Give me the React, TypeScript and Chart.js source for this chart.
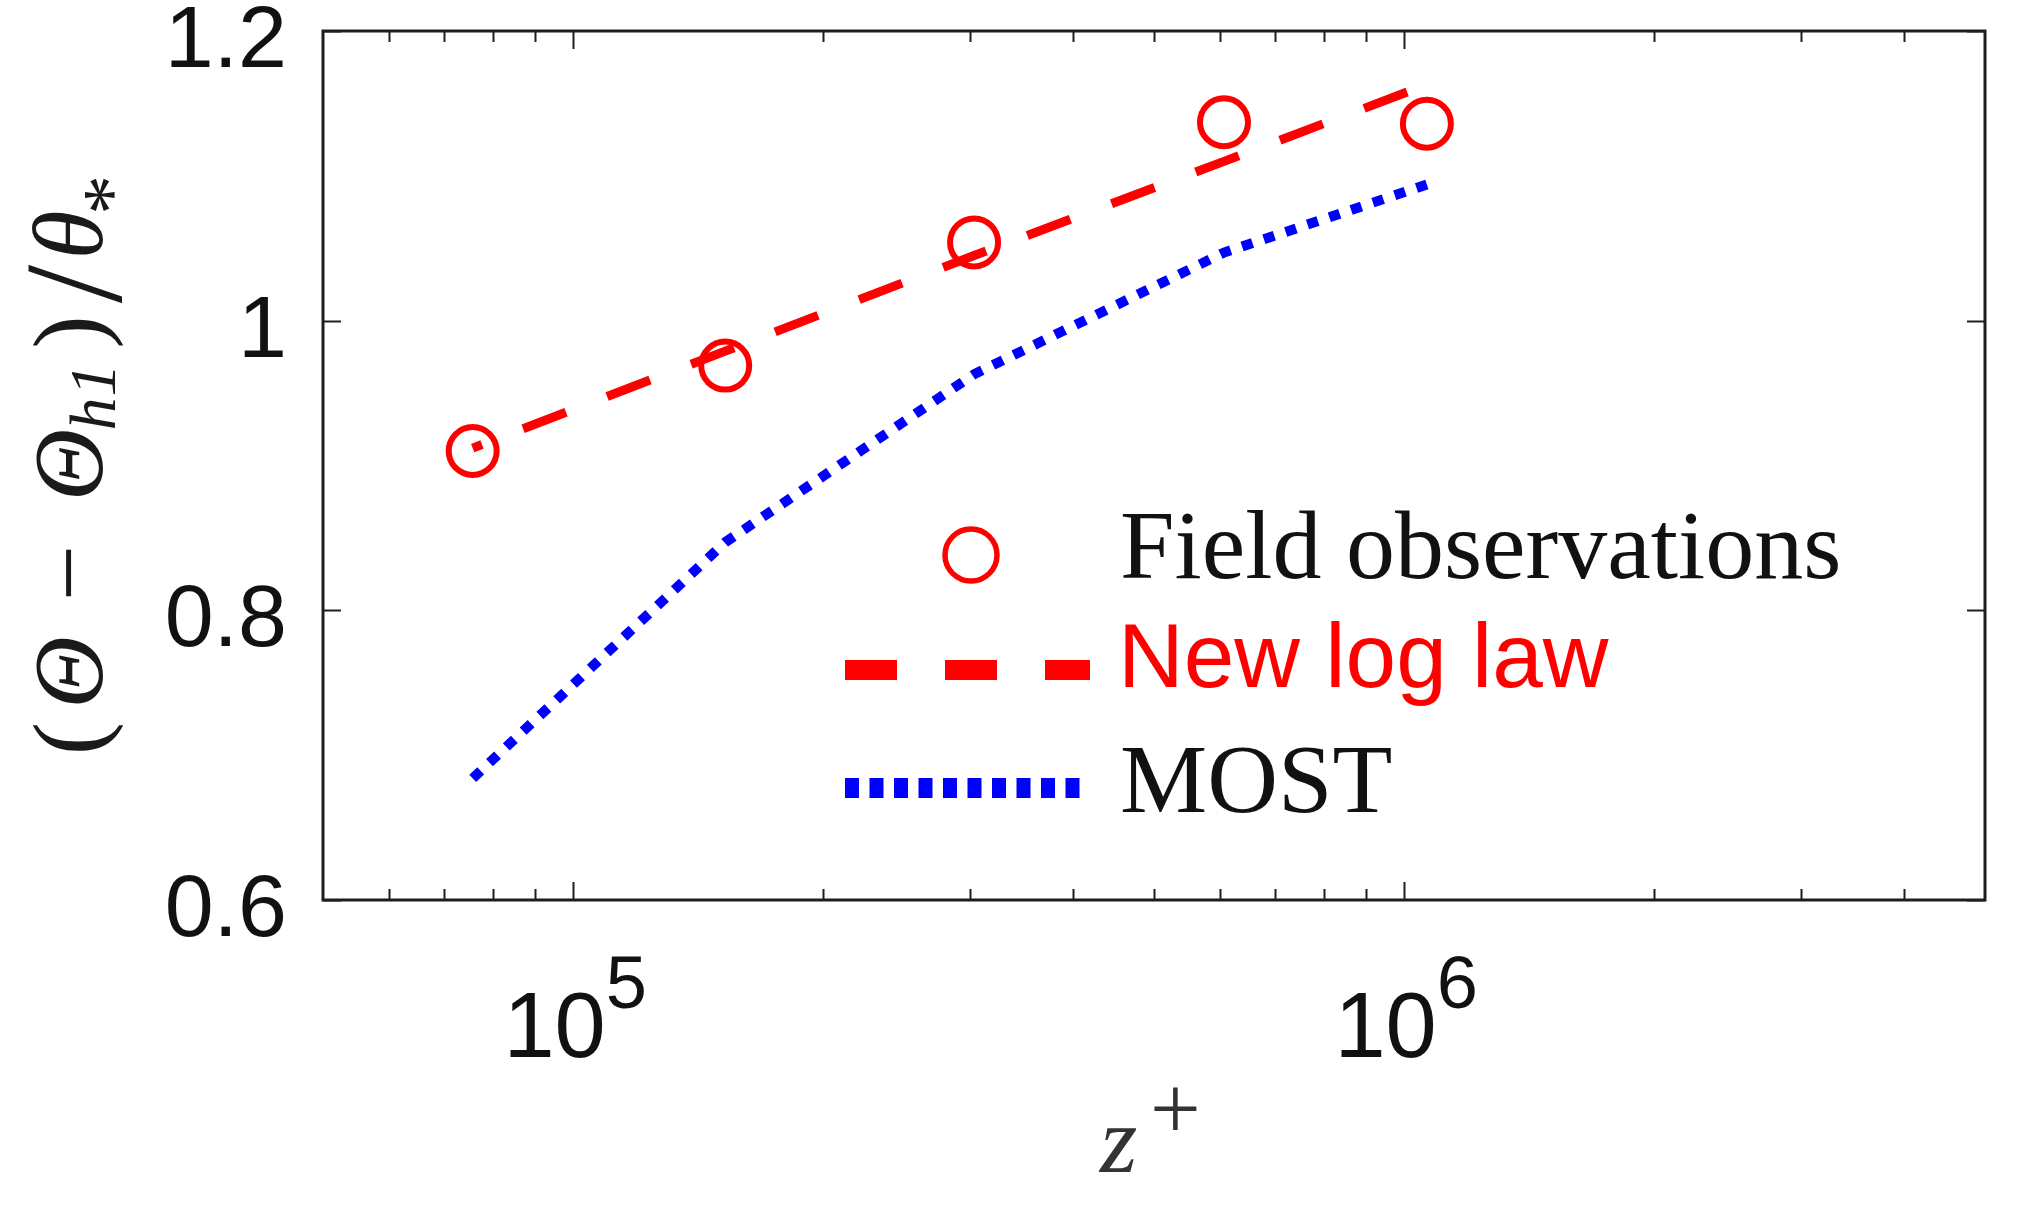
import React, { useEffect, useRef } from 'react';
import { Chart, registerables } from 'chart.js';

Chart.register(...registerables);

// ---- data ----
const zPlus = [75700, 152400, 303700, 607000, 1065000];
const fieldObservations = [0.91, 0.969, 1.054, 1.137, 1.136];
const newLogLaw = [0.912, 0.979, 1.045, 1.11, 1.163];
const most = [0.684, 0.847, 0.963, 1.047, 1.094];

const seriesLabels = ['Field observations', 'New log law', 'MOST'];

const xMajorTicks = [1e5, 1e6];
const xMajorExponents = ['5', '6'];
const xMinorTicks = [6e4, 7e4, 8e4, 9e4, 2e5, 3e5, 4e5, 5e5, 6e5, 7e5, 8e5, 9e5, 2e6, 3e6, 4e6];
const yTicks = [0.6, 0.8, 1.0, 1.2];
const yTickLabels = ['0.6', '0.8', '1', '1.2'];

const X_MIN = 5e4;
const X_MAX = 5e6;
const Y_MIN = 0.6;
const Y_MAX = 1.2;

const W = 2024;
const H = 1213;

const SANS = '"Liberation Sans", Arial, sans-serif';
const SERIF = '"Liberation Serif", "Times New Roman", serif';

const decorPlugin = {
  id: 'decor',
  afterDraw(chart: any) {
    const ctx: CanvasRenderingContext2D = chart.ctx;
    const { left, right, top, bottom } = chart.chartArea;
    const xs = chart.scales.x;
    const ys = chart.scales.y;
    ctx.save();

    // frame
    ctx.strokeStyle = '#1e1e1e';
    ctx.lineWidth = 3;
    ctx.setLineDash([]);
    ctx.strokeRect(left, top, right - left, bottom - top);

    // x ticks (inward, top and bottom)
    ctx.lineWidth = 2;
    const drawXTick = (v: number, len: number) => {
      const px = Math.round(xs.getPixelForValue(v)) + 0.5;
      ctx.beginPath();
      ctx.moveTo(px, bottom);
      ctx.lineTo(px, bottom - len);
      ctx.moveTo(px, top);
      ctx.lineTo(px, top + len);
      ctx.stroke();
    };
    xMinorTicks.forEach((v) => drawXTick(v, 11));
    xMajorTicks.forEach((v) => drawXTick(v, 18));

    // y ticks
    yTicks.forEach((v) => {
      const py = Math.round(ys.getPixelForValue(v)) + 0.5;
      ctx.beginPath();
      ctx.moveTo(left, py);
      ctx.lineTo(left + 18, py);
      ctx.moveTo(right, py);
      ctx.lineTo(right - 18, py);
      ctx.stroke();
    });

    // y tick labels
    ctx.fillStyle = '#111';
    ctx.font = `88px ${SANS}`;
    ctx.textAlign = 'right';
    ctx.textBaseline = 'alphabetic';
    yTicks.forEach((v, i) => {
      const py = ys.getPixelForValue(v);
      ctx.fillText(yTickLabels[i], 287, py + 36);
    });

    // x tick labels: 10^n
    ctx.textAlign = 'left';
    xMajorTicks.forEach((v, i) => {
      const px = xs.getPixelForValue(v);
      ctx.font = `92px ${SANS}`;
      const w1 = ctx.measureText('10').width;
      ctx.font = `74px ${SANS}`;
      const w2 = ctx.measureText(xMajorExponents[i]).width;
      const start = px - (w1 + w2) / 2 + 2;
      ctx.font = `92px ${SANS}`;
      ctx.fillText('10', start, 1057);
      ctx.font = `74px ${SANS}`;
      ctx.fillText(xMajorExponents[i], start + w1, 1008);
    });

    // x axis title: z^+
    ctx.fillStyle = '#333';
    ctx.font = `italic 96px ${SERIF}`;
    ctx.textAlign = 'left';
    ctx.fillText('z', 1100, 1172);
    ctx.font = `90px ${SERIF}`;
    ctx.fillText('+', 1150, 1139);

    // y axis title (rotated)
    ctx.save();
    ctx.translate(102, 750);
    ctx.rotate(-Math.PI / 2);
    ctx.fillStyle = '#1a1a1a';
    ctx.textAlign = 'center';
    const pieces: [string, number, number, string][] = [
      ['(', 11.5, 0, `100px ${SERIF}`],
      ['\u0398', 77.5, 0, `italic 100px ${SERIF}`],
      ['\u2212', 177, 0, `100px ${SERIF}`],
      ['\u0398', 285, 0, `italic 100px ${SERIF}`],
      ['h', 336, 13, `italic 66px ${SERIF}`],
      ['1', 370, 13, `italic 66px ${SERIF}`],
      [')', 418, 0, `100px ${SERIF}`],
      ['/', 466, 19, `139px ${SERIF}`],
      ['\u03b8', 515, 0, `italic 100px ${SERIF}`],
      ['*', 555, 36, `80px ${SERIF}`],
    ];
    pieces.forEach(([t, u, v, f]) => {
      ctx.font = f;
      ctx.fillText(t, u, v);
    });
    ctx.restore();

    // legend
    ctx.setLineDash([]);
    ctx.strokeStyle = '#ff0000';
    ctx.lineWidth = 5.5;
    ctx.beginPath();
    ctx.arc(971, 555, 26, 0, Math.PI * 2);
    ctx.stroke();

    ctx.lineCap = 'butt';
    ctx.lineWidth = 20;
    ctx.setLineDash([52, 48]);
    ctx.beginPath();
    ctx.moveTo(845, 670);
    ctx.lineTo(1090, 670);
    ctx.stroke();

    ctx.strokeStyle = '#0000ff';
    ctx.setLineDash([14, 10.5]);
    ctx.beginPath();
    ctx.moveTo(845, 788);
    ctx.lineTo(1090, 788);
    ctx.stroke();
    ctx.setLineDash([]);

    ctx.textAlign = 'left';
    ctx.fillStyle = '#111';
    ctx.font = `98px ${SERIF}`;
    ctx.fillText(seriesLabels[0], 1120, 578);
    ctx.fillStyle = '#ff0000';
    ctx.font = `91px ${SANS}`;
    ctx.fillText(seriesLabels[1], 1118, 687);
    ctx.fillStyle = '#111';
    ctx.font = `98px ${SERIF}`;
    ctx.fillText(seriesLabels[2], 1120, 812);

    ctx.restore();
  },
};

export default function App() {
  const canvasRef = useRef<HTMLCanvasElement | null>(null);

  useEffect(() => {
    document.body.style.margin = '0';
    const canvas = canvasRef.current;
    if (!canvas) return;
    const chart = new Chart(canvas, {
      type: 'line',
      data: {
        datasets: [
          {
            label: seriesLabels[1],
            data: zPlus.map((x, i) => ({ x, y: newLogLaw[i] })),
            borderColor: '#ff0000',
            backgroundColor: '#ff0000',
            borderWidth: 9,
            borderDash: [46, 44],
            borderDashOffset: 36,
            borderCapStyle: 'butt',
            pointRadius: 0,
            fill: false,
            tension: 0,
          },
          {
            label: seriesLabels[2],
            data: zPlus.map((x, i) => ({ x, y: most[i] })),
            borderColor: '#0000ff',
            backgroundColor: '#0000ff',
            borderWidth: 10,
            borderDash: [11, 12],
            borderCapStyle: 'butt',
            pointRadius: 0,
            fill: false,
            tension: 0,
          },
          {
            label: seriesLabels[0],
            data: zPlus.map((x, i) => ({ x, y: fieldObservations[i] })),
            showLine: false,
            pointStyle: 'circle',
            pointRadius: 24,
            pointBorderWidth: 6,
            pointBorderColor: '#ff0000',
            pointBackgroundColor: 'rgba(0,0,0,0)',
            borderColor: '#ff0000',
          },
        ],
      } as any,
      options: {
        responsive: false,
        animation: false,
        devicePixelRatio: 1,
        layout: { padding: { left: 323, right: W - 1985, top: 31, bottom: H - 900 } },
        plugins: {
          legend: { display: false },
          tooltip: { enabled: false },
        },
        scales: {
          x: { type: 'logarithmic', min: X_MIN, max: X_MAX, display: false },
          y: { type: 'linear', min: Y_MIN, max: Y_MAX, display: false },
        },
      } as any,
      plugins: [decorPlugin],
    });
    return () => chart.destroy();
  }, []);

  return (
    <div style={{ position: 'absolute', left: 0, top: 0, width: W, height: H, background: '#fff' }}>
      <canvas ref={canvasRef} width={W} height={H} style={{ width: W, height: H, display: 'block' }} />
    </div>
  );
}
